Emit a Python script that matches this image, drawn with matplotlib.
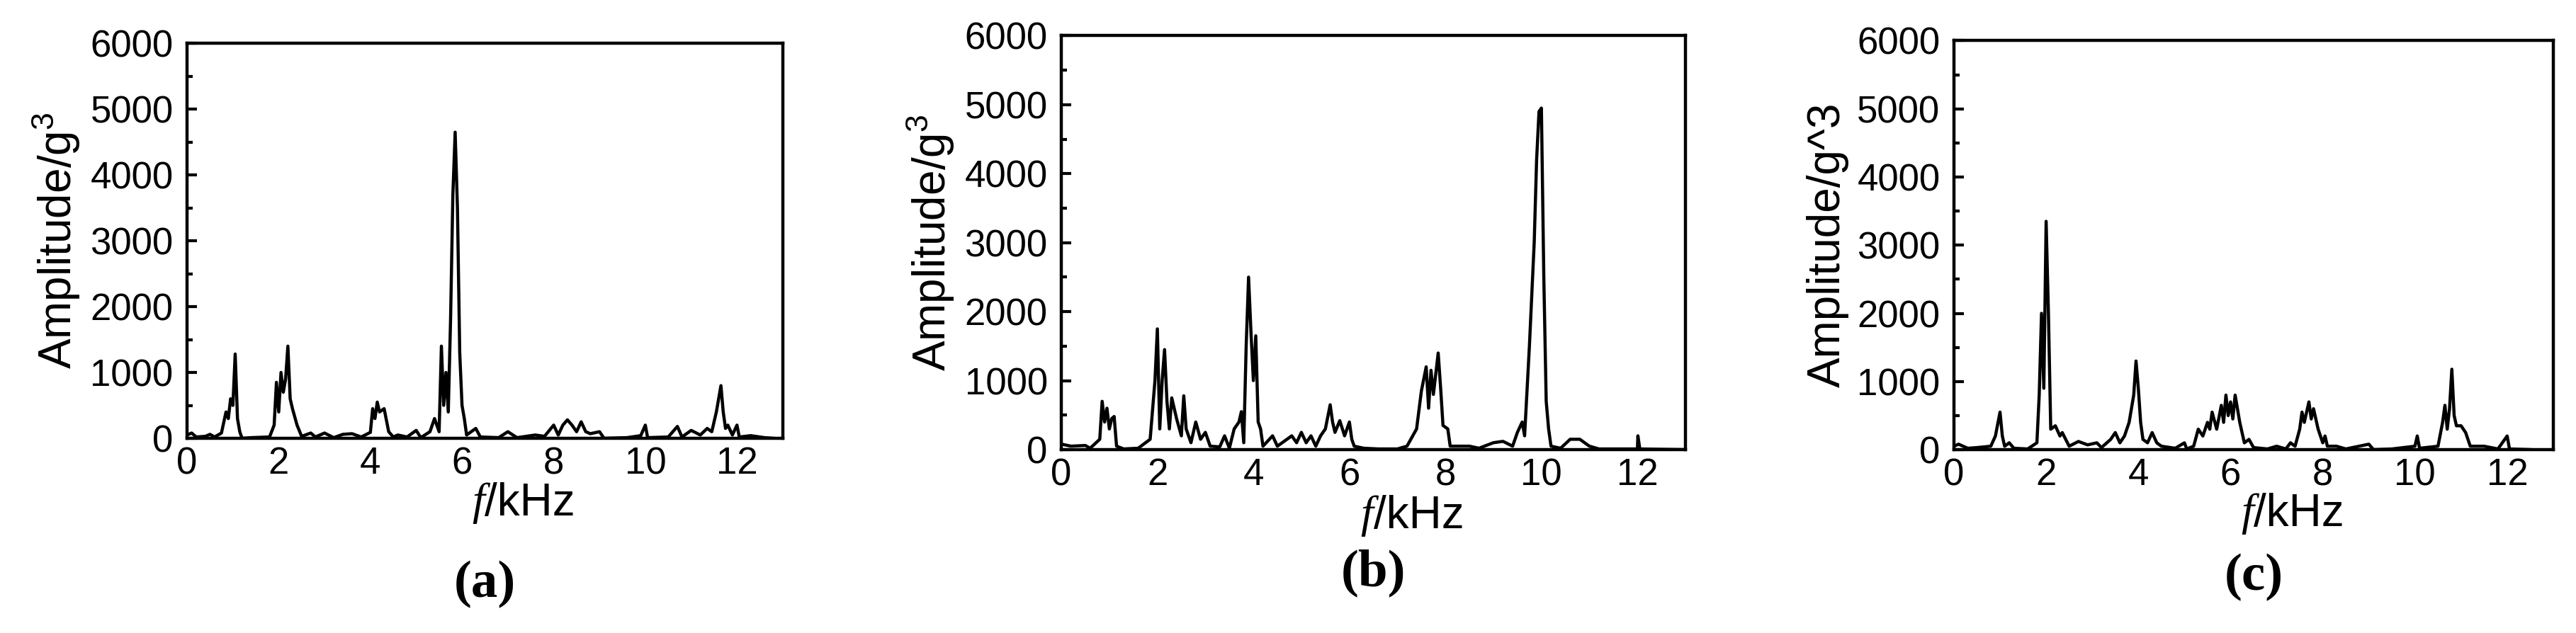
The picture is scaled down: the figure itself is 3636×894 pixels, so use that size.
import matplotlib
matplotlib.use("Agg")
import matplotlib.pyplot as plt
from matplotlib.ticker import MultipleLocator

# spectra: (f in kHz, amplitude)
f_a = [0, 0.1, 0.2, 0.4, 0.5, 0.6, 0.75, 0.85, 0.9, 0.95, 1.0, 1.05, 1.1, 1.15, 1.2, 1.4, 1.8, 1.9, 1.95, 2.0,
       2.05, 2.1, 2.15, 2.2, 2.25, 2.3, 2.4, 2.5, 2.7, 2.8, 3.0, 3.2, 3.4, 3.6, 3.8, 4.0, 4.05, 4.1, 4.15, 4.2,
       4.3, 4.4, 4.5, 4.6, 4.8, 5.0, 5.1, 5.3, 5.4, 5.5, 5.55, 5.6, 5.65, 5.7, 5.75, 5.8, 5.85, 5.9, 5.95, 6.0,
       6.05, 6.1, 6.2, 6.3, 6.4, 6.8, 7.0, 7.2, 7.6, 7.8, 8.0, 8.1, 8.2, 8.3, 8.4, 8.5, 8.6, 8.7, 8.8, 9.0,
       9.1, 9.6, 9.9, 10.0, 10.05, 10.5, 10.7, 10.8, 11.0, 11.2, 11.35, 11.45, 11.55, 11.65, 11.7, 11.75, 11.8,
       11.9, 12.0, 12.05, 12.3, 12.6, 12.8]
amp_a = [50, 80, 20, 30, 60, 20, 80, 400, 300, 600, 500, 1280, 300, 100, 0, 10, 20, 200, 850, 400,
         1000, 700, 900, 1400, 600, 450, 200, 30, 80, 20, 80, 10, 60, 70, 20, 90, 450, 300, 550, 400,
         450, 100, 20, 50, 20, 120, 10, 100, 300, 100, 1400, 500, 1000, 400, 1800, 3700, 4650, 3500, 1300, 500,
         300, 50, 100, 150, 20, 10, 100, 10, 50, 30, 200, 50, 200, 280, 200, 100, 250, 100, 70, 100,
         0, 10, 40, 200, 10, 20, 180, 20, 120, 50, 150, 100, 400, 800, 400, 150, 200,
         50, 200, 20, 40, 10, 0]

f_b = [0, 0.2, 0.5, 0.6, 0.8, 0.85, 0.9, 0.95, 1.0, 1.05, 1.1, 1.15, 1.3, 1.6, 1.85, 1.95, 2.0, 2.05, 2.1, 2.15,
       2.2, 2.25, 2.3, 2.4, 2.5, 2.55, 2.6, 2.7, 2.8, 2.9, 3.0, 3.1, 3.3, 3.4, 3.5, 3.6, 3.7, 3.75, 3.8, 3.85,
       3.9, 3.95, 4.0, 4.05, 4.1, 4.15, 4.2, 4.4, 4.5, 4.8, 4.9, 5.0, 5.1, 5.2, 5.3, 5.4, 5.5, 5.6, 5.65, 5.7,
       5.8, 5.9, 6.0, 6.05, 6.1, 6.3, 6.6, 7.0, 7.2, 7.4, 7.5, 7.6, 7.65, 7.7, 7.75, 7.85, 7.9, 7.95, 8.05, 8.1,
       8.5, 8.7, 9.0, 9.2, 9.4, 9.5, 9.6, 9.65, 9.75, 9.85, 9.9, 9.95, 10.0, 10.05, 10.1, 10.15, 10.2, 10.4,
       10.6, 10.8, 11.0, 11.2, 12.0, 12.01, 12.05, 12.5, 13]
amp_b = [80, 50, 60, 20, 150, 700, 400, 600, 300, 450, 480, 50, 10, 20, 150, 1000, 1750, 300, 1000, 1450,
         700, 300, 750, 450, 200, 780, 300, 100, 400, 150, 250, 50, 40, 200, 20, 300, 400, 550, 100, 1500,
         2500, 1700, 1000, 1650, 400, 300, 50, 200, 50, 200, 100, 250, 100, 200, 50, 200, 300, 650, 400, 250,
         420, 200, 400, 150, 50, 20, 10, 10, 50, 300, 850, 1200, 600, 1150, 800, 1400, 900, 350, 300, 50,
         50, 20, 100, 120, 50, 250, 400, 200, 1500, 3000, 4200, 4900, 4950, 2500, 700, 300, 50, 20,
         150, 150, 50, 10, 10, 200, 10, 5, 0]

f_c = [0, 0.1, 0.3, 0.5, 0.8, 0.9, 1.0, 1.05, 1.1, 1.2, 1.3, 1.6, 1.8, 1.85, 1.9, 1.95, 2.0, 2.05, 2.1, 2.2,
       2.3, 2.35, 2.5, 2.7, 2.9, 3.1, 3.2, 3.4, 3.5, 3.6, 3.7, 3.8, 3.9, 3.95, 4.0, 4.05, 4.1, 4.2, 4.3, 4.4,
       4.5, 4.8, 5.0, 5.05, 5.2, 5.3, 5.4, 5.5, 5.55, 5.6, 5.7, 5.8, 5.85, 5.9, 5.95, 6.0, 6.05, 6.1, 6.2, 6.3,
       6.4, 6.5, 6.8, 7.0, 7.2, 7.3, 7.4, 7.5, 7.55, 7.6, 7.7, 7.75, 7.8, 7.9, 8.0, 8.05, 8.1, 8.3, 8.5, 9.0,
       9.1, 9.5, 10.0, 10.05, 10.1, 10.5, 10.6, 10.65, 10.7, 10.75, 10.8, 10.85, 10.9, 11.0, 11.1, 11.2, 11.5,
       11.8, 12.0, 12.05, 12.5]
amp_c = [50, 80, 20, 30, 50, 200, 550, 200, 50, 100, 20, 10, 100, 800, 2000, 900, 3350, 2000, 300, 350,
         200, 250, 50, 120, 70, 100, 30, 150, 250, 100, 200, 400, 800, 1300, 900, 400, 150, 100, 250, 100,
         50, 20, 100, 10, 50, 300, 200, 400, 300, 550, 300, 650, 400, 800, 500, 700, 450, 800, 400, 100,
         150, 30, 10, 50, 10, 100, 50, 300, 550, 400, 700, 450, 600, 300, 100, 200, 50, 50, 10, 80,
         0, 10, 50, 200, 20, 50, 400, 650, 300, 600, 1180, 500, 350, 350, 250, 50, 50,
         10, 200, 10, 0]

# data, y label, tag, axes rect, y of "f/kHz", y of tag (figure fractions)
panels = [
    (f_a, amp_a, "Amplitude/g$^{3}$", "(a)", [0.0726, 0.3076, 0.2312, 0.624], 0.205, 0.077),
    (f_b, amp_b, "Amplitude/g$^{3}$", "(b)", [0.4119, 0.2897, 0.2422, 0.654], 0.185, 0.095),
    (f_c, amp_c, "Amplitude/g^3", "(c)", [0.7583, 0.2897, 0.2326, 0.646], 0.188, 0.088),
]

plt.rcParams["font.family"] = ["Liberation Sans", "DejaVu Sans"]
plt.rcParams["mathtext.fontset"] = "custom"
plt.rcParams["mathtext.rm"] = "Liberation Sans"

fig = plt.figure(figsize=(36.37, 8.94), dpi=100)
for f, amp, ylab, tag, rect, y_xl, y_tag in panels:
    ax = fig.add_axes(rect)
    ax.plot(f, amp, color="black", lw=3.2)
    ax.set_xlim(0, 13)
    ax.set_ylim(0, 6000)
    ax.xaxis.set_major_locator(MultipleLocator(2))
    ax.yaxis.set_major_locator(MultipleLocator(1000))
    ax.yaxis.set_minor_locator(MultipleLocator(500))
    ax.tick_params(which="both", direction="in", labelsize=38, width=3, top=False, right=False)
    ax.tick_params(which="major", length=10)
    ax.tick_params(which="minor", length=6)
    ax.tick_params(axis="x", which="major", length=0, pad=8)
    ax.tick_params(axis="y", which="major", pad=14)
    for s in ax.spines.values():
        s.set_linewidth(3.2)
    ax.set_ylabel(ylab, fontsize=46, labelpad=8)
    xc = rect[0] + rect[2] / 2
    # "f/kHz": italic serif f followed by upright sans "/kHz"
    fig.text(xc, y_xl, "/kHz", fontsize=46, ha="left", va="center")
    fig.text(xc, y_xl, "f", fontsize=46, ha="right", va="center",
             family="Liberation Serif", style="italic")
    fig.text(xc, y_tag, tag, fontsize=54, ha="center", va="center",
             family="Liberation Serif", weight="bold")

fig.savefig("out.png", dpi=100)
